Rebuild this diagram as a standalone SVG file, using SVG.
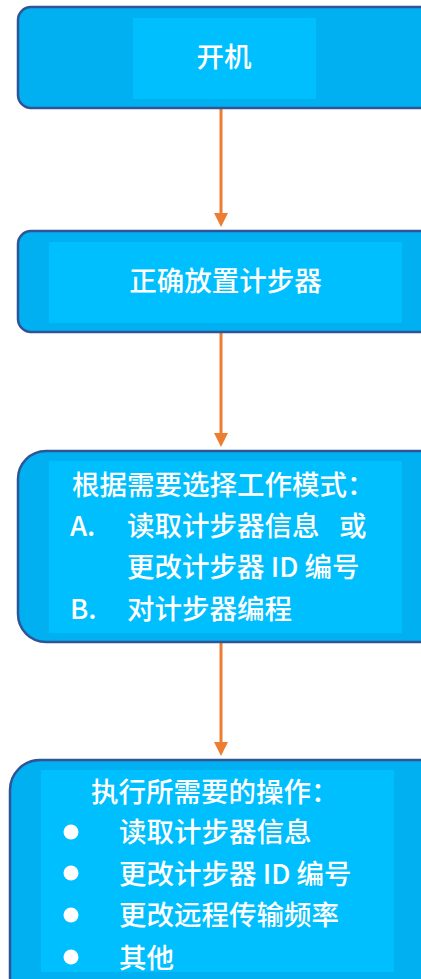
<svg xmlns="http://www.w3.org/2000/svg" width="421" height="979" viewBox="0 0 421 979">
<defs>
<style>
.outer{fill:#00B0F0;stroke:#2F5597;stroke-width:2.5}
.inner{fill:#00BFFF}
.t{font-family:"Noto Sans CJK SC","Noto Sans",sans-serif;font-size:27.5px;fill:#FFFFFF;font-weight:500}
.b{font-weight:500}
.conn{stroke:#ED7D31;stroke-width:3;fill:none}
</style>
<marker id="ah" markerWidth="14" markerHeight="14" refX="6" refY="6" viewBox="0 0 12 12" orient="auto" markerUnits="userSpaceOnUse">
<path d="M0,0 L12,6 L0,12 z" fill="#ED7D31"/>
</marker>
</defs>
<rect width="421" height="979" fill="#FFFFFF"/>
<g id="connectors">
<line class="conn" x1="221" y1="109" x2="221" y2="220" marker-end="url(#ah)"/>
<line class="conn" x1="221" y1="333" x2="221" y2="440" marker-end="url(#ah)"/>
<line class="conn" x1="221" y1="643" x2="221" y2="749" marker-end="url(#ah)"/>
</g>
<g id="node1">
<rect class="outer" x="18" y="7" width="420" height="101" rx="13"/>
<rect class="inner" x="133" y="18" width="183" height="81"/>
<text class="t" x="224" y="67" text-anchor="middle">开机</text>
</g>
<g id="node2">
<rect class="outer" x="18" y="231" width="420" height="101" rx="13"/>
<rect class="inner" x="49" y="242" width="353" height="81"/>
<text class="t" x="225.5" y="291" text-anchor="middle">正确放置计步器</text>
</g>
<g id="node3">
<rect class="outer" x="18" y="451" width="430" height="191" rx="28"/>
<rect class="inner" x="49" y="461" width="353" height="172"/>
<text class="t b" x="72" y="495">根据需要选择工作模式：</text>
<text class="t b" x="70" y="536">A.</text>
<text class="t b" x="127" y="536">读取计步器信息</text>
<text class="t b" x="339" y="536">或</text>
<text class="t b" x="127" y="577">更改计步器 ID 编号</text>
<text class="t b" x="70" y="619">B.</text>
<text class="t b" x="127" y="619">对计步器编程</text>
</g>
<g id="node4">
<rect class="outer" x="10" y="760" width="440" height="260" rx="30"/>
<rect class="inner" x="41" y="770" width="353" height="202"/>
<text class="t b" x="91" y="802">执行所需要的操作：</text>
<g fill="#FFFFFF">
<circle cx="71" cy="832" r="7.5"/>
<circle cx="71" cy="873" r="7.5"/>
<circle cx="71" cy="915" r="7.5"/>
<circle cx="71" cy="957" r="7.5"/>
</g>
<text class="t b" x="119" y="842">读取计步器信息</text>
<text class="t b" x="119" y="884">更改计步器 ID 编号</text>
<text class="t b" x="119" y="925">更改远程传输频率</text>
<text class="t b" x="119" y="968">其他</text>
</g>
</svg>
